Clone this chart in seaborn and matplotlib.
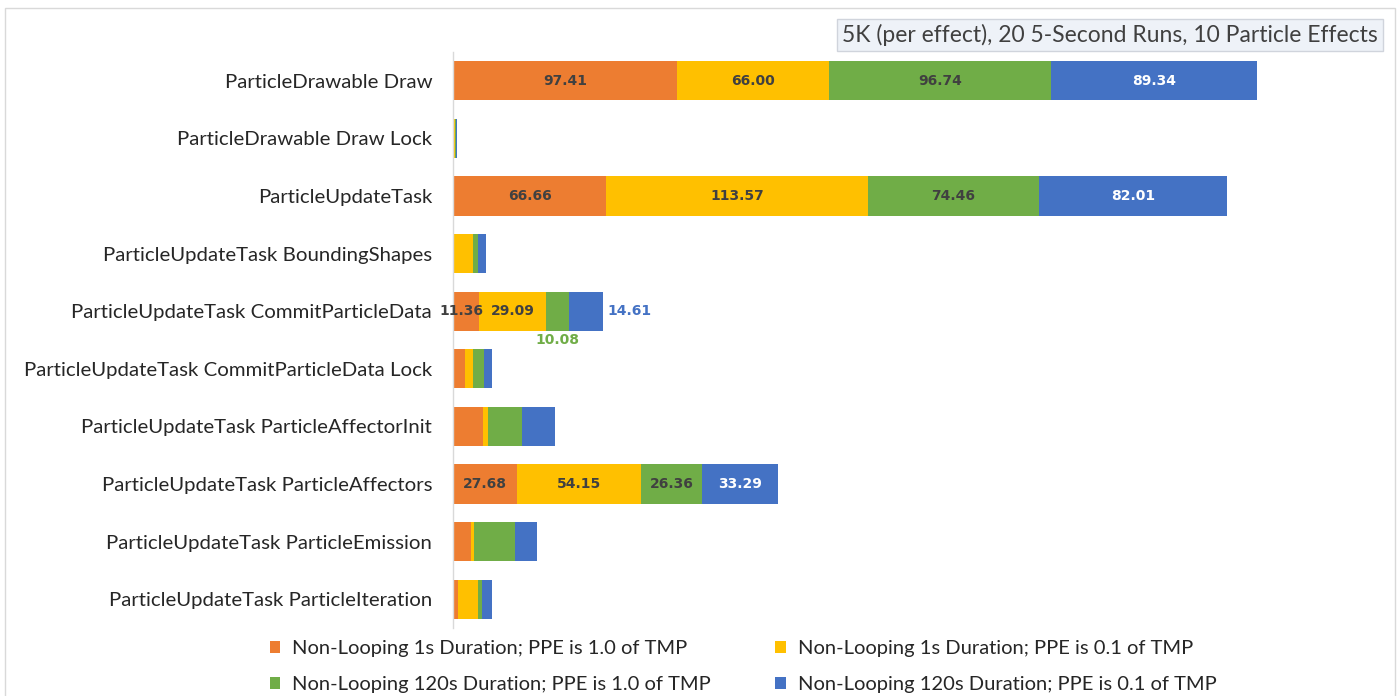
import numpy as np
import matplotlib
matplotlib.use("Agg")
import matplotlib.pyplot as plt
import seaborn as sns
from matplotlib.patches import Rectangle, Patch

# Timing per particle subsystem, four test configurations
categories = [
    "ParticleDrawable Draw",
    "ParticleDrawable Draw Lock",
    "ParticleUpdateTask",
    "ParticleUpdateTask BoundingShapes",
    "ParticleUpdateTask CommitParticleData",
    "ParticleUpdateTask CommitParticleData Lock",
    "ParticleUpdateTask ParticleAffectorInit",
    "ParticleUpdateTask ParticleAffectors",
    "ParticleUpdateTask ParticleEmission",
    "ParticleUpdateTask ParticleIteration",
]
series_names = [
    "Non-Looping 1s Duration; PPE is 1.0 of TMP",
    "Non-Looping 1s Duration; PPE is 0.1 of TMP",
    "Non-Looping 120s Duration; PPE is 1.0 of TMP",
    "Non-Looping 120s Duration; PPE is 0.1 of TMP",
]
loop1s_ppe10 = [97.41, 0.4, 66.66, 0.3, 11.36, 5.0, 13.0, 27.68, 7.8, 2.2]
loop1s_ppe01 = [66.00, 0.3, 113.57, 8.4, 29.09, 3.9, 2.2, 54.15, 1.3, 8.7]
loop120s_ppe10 = [96.74, 0.5, 74.46, 2.2, 10.08, 4.6, 14.8, 26.36, 17.8, 1.7]
loop120s_ppe01 = [89.34, 0.4, 82.01, 3.6, 14.61, 3.3, 14.3, 33.29, 9.6, 4.3]
labeled_rows = [
    "ParticleDrawable Draw",
    "ParticleUpdateTask",
    "ParticleUpdateTask CommitParticleData",
    "ParticleUpdateTask ParticleAffectors",
]
title_text = "5K (per effect), 20 5-Second Runs, 10 Particle Effects"

colors = ["#ED7D31", "#FFC000", "#70AD47", "#4472C4"]
label_colors = ["#404040", "#404040", "#404040", "#FFFFFF"]

sns.set_style("white")
plt.rcParams["font.family"] = ["Lato", "DejaVu Sans"]

fig = plt.figure(figsize=(13.98, 6.96), dpi=100)
ax = fig.add_axes([453 / 1398, 68 / 696, 920 / 1398, 576 / 696])

values = np.array([loop1s_ppe10, loop1s_ppe01, loop120s_ppe10, loop120s_ppe01])
cum = np.cumsum(values, axis=0)

# stacked bars: draw running totals from the outermost segment inward
for i in range(3, -1, -1):
    sns.barplot(x=cum[i], y=categories, order=categories, orient="h",
                color=colors[i], saturation=1, width=0.68, ax=ax,
                linewidth=0)

ax.set_xlim(0, 400)
ax.set_ylim(9.5, -0.5)
ax.set_xlabel("")
ax.set_ylabel("")
ax.set_xticks([])
ax.tick_params(axis="y", length=0, pad=15, labelsize=14.7, labelcolor="#262626")
for s in ["top", "right", "bottom"]:
    ax.spines[s].set_visible(False)
ax.spines["left"].set_color("#D9D9D9")
ax.spines["left"].set_linewidth(1.0)

# data labels
lbl_kw = dict(fontsize=10, fontweight="bold", family="DejaVu Sans")
for cat in labeled_rows:
    r = categories.index(cat)
    lefts = np.concatenate([[0], cum[:-1, r]])
    for i in range(4):
        v = values[i, r]
        center = lefts[i] + v / 2
        txt = f"{v:.2f}"
        if cat == "ParticleUpdateTask CommitParticleData" and i == 0:
            ax.text(center - 2, r, txt, ha="center", va="center",
                    color=label_colors[i], **lbl_kw)
        elif cat == "ParticleUpdateTask CommitParticleData" and i == 2:
            ax.text(center, r + 0.5, txt, ha="center", va="center",
                    color=colors[i], **lbl_kw)
        elif cat == "ParticleUpdateTask CommitParticleData" and i == 3:
            ax.text(cum[3, r] + 2, r, txt, ha="left", va="center",
                    color=colors[i], **lbl_kw)
        else:
            ax.text(center, r, txt, ha="center", va="center",
                    color=label_colors[i], **lbl_kw)

# title box
fig.text(1378 / 1398, 1 - 35 / 696, title_text, ha="right", va="center",
         fontsize=16.5, color="#404040",
         bbox=dict(boxstyle="square,pad=0.22", facecolor="#EEF2F8",
                   edgecolor="#D0D4DC", linewidth=1))

# legend
handles = [Patch(facecolor=c, edgecolor="none") for c in colors]
order = [0, 2, 1, 3]
fig.legend([handles[k] for k in order], [series_names[k] for k in order],
           ncol=2, loc="upper left", bbox_to_anchor=(252 / 1398, 1 - 622 / 696),
           frameon=False, fontsize=14.5, handlelength=0.5, handleheight=0.5,
           handletextpad=0.6, columnspacing=3.2, labelspacing=0.94,
           labelcolor="#262626")

# outer chart border
fig.patches.append(Rectangle((5 / 1398, -0.01), 1390 / 1398, 1 - 8 / 696 + 0.01,
                             transform=fig.transFigure, fill=False,
                             edgecolor="#D9D9D9", linewidth=1))

fig.savefig("out.png", dpi=100, facecolor="white")
